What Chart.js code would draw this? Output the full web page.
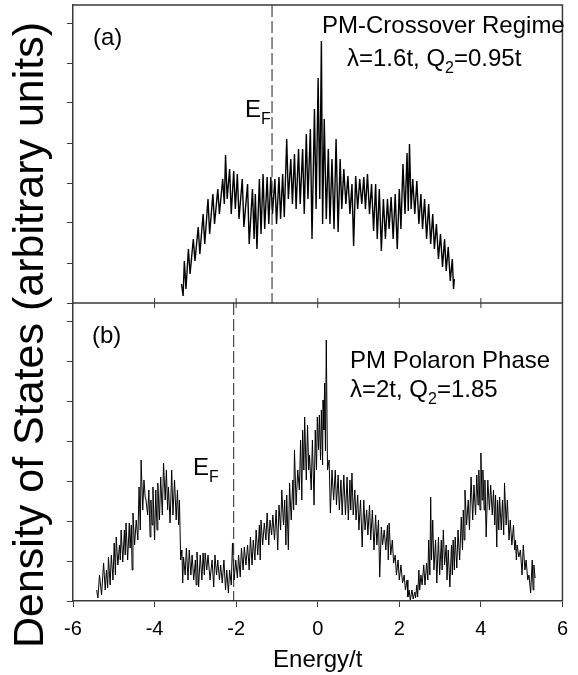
<!DOCTYPE html>
<html>
<head>
<meta charset="utf-8">
<script src="https://cdn.jsdelivr.net/npm/chart.js@4.4.1/dist/chart.umd.min.js"></script>
<style>
  body { margin: 0; background: #fff; }
  #wrap { width: 578px; height: 675px; }
</style>
</head>
<body>
<div id="wrap"><canvas id="dos" width="578" height="675"></canvas></div>
<script>
// x axis ticks
const xTickValues = [-6, -4, -2, 0, 2, 4, 6];

// Fermi energies (dashed lines)
const fermiA = -1.12;
const fermiB = -2.06;

// panel (a): PM-crossover regime
const energyA = [
  -3.34,-3.30,-3.27,-3.23,-3.17,-3.13,-3.05,-3.01,-2.93,-2.89,
  -2.81,-2.77,-2.69,-2.65,-2.57,-2.53,-2.45,-2.41,-2.33,-2.29,
  -2.26,-2.22,-2.16,-2.12,-2.06,-2.02,-1.97,-1.93,-1.85,-1.81,
  -1.72,-1.68,-1.60,-1.56,-1.53,-1.49,-1.43,-1.39,-1.34,-1.30,
  -1.24,-1.20,-1.15,-1.11,-1.05,-1.01,-0.95,-0.91,-0.86,-0.82,
  -0.76,-0.72,-0.66,-0.62,-0.57,-0.53,-0.47,-0.43,-0.37,-0.33,
  -0.28,-0.24,-0.18,-0.14,-0.08,-0.04,0.01,0.05,0.09,0.12,
  0.16,0.21,0.26,0.30,0.35,0.40,0.45,0.50,0.55,0.59,
  0.64,0.69,0.74,0.79,0.84,0.88,0.93,0.98,1.03,1.08,
  1.13,1.17,1.22,1.27,1.32,1.37,1.42,1.46,1.51,1.56,
  1.61,1.66,1.71,1.75,1.80,1.85,1.90,1.95,2.00,2.04,
  2.09,2.14,2.19,2.22,2.25,2.29,2.33,2.38,2.43,2.48,
  2.53,2.57,2.62,2.67,2.72,2.77,2.82,2.86,2.91,2.96,
  3.01,3.06,3.11,3.15,3.20,3.25,3.30,3.33,3.35
];
const dosA = [
  19,7,42,14,54,29,64,42,76,49,
  89,59,104,69,109,79,114,89,124,99,
  148,104,134,89,132,94,129,84,124,76,
  119,59,114,64,109,54,124,69,129,74,
  126,79,126,89,124,79,126,84,129,86,
  164,104,144,99,149,94,154,99,154,89,
  169,104,174,64,194,94,225,104,262,79,
  184,84,154,79,144,74,164,71,144,94,
  134,99,127,89,119,57,127,94,124,99,
  126,94,129,89,119,72,119,64,114,52,
  104,64,104,74,106,64,109,54,114,74,
  139,89,150,92,159,94,124,89,122,79,
  109,74,104,64,99,59,89,54,79,44,
  69,36,64,32,56,22,44,14,24
];

// panel (b): PM polaron phase
const energyB = [
  -5.42,-5.39,-5.35,-5.30,-5.25,-5.21,-5.18,-5.15,-5.13,-5.09,
  -5.06,-5.02,-4.99,-4.96,-4.94,-4.90,-4.86,-4.84,-4.82,-4.78,
  -4.74,-4.72,-4.70,-4.66,-4.62,-4.60,-4.57,-4.55,-4.53,-4.49,
  -4.45,-4.41,-4.38,-4.35,-4.33,-4.29,-4.26,-4.23,-4.21,-4.17,
  -4.14,-4.11,-4.09,-4.06,-4.04,-4.00,-3.97,-3.94,-3.92,-3.88,
  -3.85,-3.81,-3.78,-3.74,-3.71,-3.68,-3.66,-3.62,-3.58,-3.55,
  -3.51,-3.47,-3.44,-3.41,-3.39,-3.36,-3.33,-3.31,-3.29,-3.25,
  -3.22,-3.18,-3.15,-3.11,-3.08,-3.04,-3.00,-2.98,-2.96,-2.92,
  -2.88,-2.84,-2.81,-2.78,-2.76,-2.72,-2.69,-2.64,-2.59,-2.55,
  -2.52,-2.48,-2.45,-2.41,-2.38,-2.34,-2.30,-2.26,-2.23,-2.19,
  -2.16,-2.12,-2.09,-2.05,-2.01,-1.97,-1.94,-1.90,-1.87,-1.83,
  -1.80,-1.76,-1.72,-1.68,-1.65,-1.61,-1.58,-1.54,-1.51,-1.47,
  -1.43,-1.41,-1.39,-1.35,-1.31,-1.27,-1.24,-1.20,-1.17,-1.13,
  -1.10,-1.06,-1.02,-0.98,-0.95,-0.91,-0.88,-0.84,-0.81,-0.78,
  -0.76,-0.72,-0.69,-0.65,-0.61,-0.59,-0.57,-0.53,-0.49,-0.45,
  -0.42,-0.39,-0.37,-0.34,-0.32,-0.28,-0.25,-0.22,-0.20,-0.16,
  -0.13,-0.09,-0.06,-0.03,-0.01,0.02,0.04,0.07,0.09,0.12,
  0.13,0.15,0.17,0.19,0.21,0.24,0.28,0.31,0.35,0.39,
  0.43,0.46,0.50,0.53,0.57,0.60,0.64,0.68,0.72,0.75,
  0.79,0.81,0.84,0.87,0.91,0.94,0.98,1.01,1.05,1.09,
  1.13,1.16,1.20,1.23,1.27,1.30,1.34,1.38,1.42,1.45,
  1.49,1.52,1.56,1.59,1.63,1.67,1.71,1.73,1.75,1.79,
  1.83,1.86,1.90,1.93,1.97,2.00,2.04,2.08,2.12,2.15,
  2.19,2.21,2.24,2.27,2.31,2.34,2.38,2.40,2.43,2.45,
  2.48,2.50,2.53,2.56,2.60,2.63,2.67,2.70,2.72,2.75,
  2.77,2.79,2.82,2.85,2.89,2.92,2.96,2.99,3.03,3.05,
  3.08,3.11,3.15,3.17,3.20,3.24,3.28,3.30,3.32,3.35,
  3.37,3.41,3.44,3.48,3.52,3.55,3.57,3.59,3.61,3.65,
  3.69,3.72,3.76,3.80,3.83,3.87,3.90,3.93,3.95,3.98,
  4.00,4.03,4.05,4.08,4.10,4.13,4.17,4.21,4.24,4.28,
  4.31,4.34,4.36,4.39,4.41,4.44,4.46,4.50,4.53,4.56,
  4.58,4.62,4.65,4.69,4.72,4.76,4.80,4.83,4.85,4.87,
  4.89,4.93,4.97,5.01,5.04,5.08,5.11,5.15,5.18,5.22,
  5.26,5.28,5.30,5.33
];
const dosB = [
  11,3,26,6,38,11,31,13,44,16,
  46,21,58,26,64,36,56,41,71,39,
  71,46,78,41,78,53,76,31,88,56,
  81,61,114,71,141,91,121,104,101,86,
  111,64,101,76,114,61,111,71,118,81,
  124,86,138,101,131,91,114,78,131,86,
  121,81,111,76,101,41,51,18,44,26,
  53,21,51,26,46,21,41,16,49,14,
  46,21,48,26,48,31,46,21,41,14,
  46,26,41,21,36,18,41,11,31,8,
  31,16,58,21,41,23,46,24,53,31,
  54,36,56,31,64,36,61,41,71,46,
  76,41,81,56,78,61,88,56,81,66,
  86,61,91,51,96,71,111,76,101,56,
  106,51,118,81,121,91,151,96,131,111,
  161,101,171,131,184,121,176,131,146,111,
  161,96,171,131,184,151,186,141,191,136,
  201,171,218,150,261,131,141,88,131,101,
  131,96,126,91,121,86,126,86,124,81,
  121,91,128,86,111,81,106,71,101,54,
  101,71,91,66,96,61,91,51,86,56,
  81,24,74,56,71,51,76,41,78,46,
  61,38,46,26,41,21,36,18,26,11,
  21,4,11,1,11,2,9,3,16,4,
  31,11,26,16,36,16,38,21,61,26,
  104,41,81,31,61,18,64,26,61,31,
  71,36,56,21,51,14,56,26,61,31,
  64,33,71,41,84,51,91,61,111,76,
  101,71,124,81,116,86,126,96,131,91,
  148,101,131,91,121,64,121,91,116,86,
  111,76,106,54,101,71,104,71,101,66,
  118,76,101,61,81,56,76,51,61,41,
  56,44,51,26,56,31,41,21,26,8,
  41,11,36,23
];

const FONT = 'Arial, "Liberation Sans", sans-serif';
const frameColor = '#3a3a3a';
Chart.defaults.font.family = FONT;
Chart.defaults.color = '#000';

// draw text made of normal / subscript pieces
function drawParts(ctx, parts, x, y, size) {
  let cx = x;
  parts.forEach(([txt, sub]) => {
    ctx.font = (sub ? Math.round(size * 0.65) : size) + 'px ' + FONT;
    ctx.fillText(txt, cx, sub ? y + size * 0.28 : y);
    cx += ctx.measureText(txt).width;
  });
}

const overlay = {
  id: 'overlay',
  afterDraw(chart) {
    const { ctx, chartArea: ca, scales } = chart;
    const x = scales.x, ya = scales.yA, yb = scales.yB;
    ctx.save();

    // frame: top, right and the divider between the panels
    ctx.strokeStyle = frameColor;
    ctx.lineWidth = 1.5;
    ctx.beginPath();
    ctx.moveTo(ca.left, ca.top);
    ctx.lineTo(ca.right, ca.top);
    ctx.lineTo(ca.right, ca.bottom);
    ctx.moveTo(ca.left, ya.bottom);
    ctx.lineTo(ca.right, ya.bottom);
    ctx.stroke();

    // small ticks across the divider
    ctx.lineWidth = 1;
    ctx.beginPath();
    x.ticks.forEach(t => {
      const px = x.getPixelForValue(t.value);
      if (px > ca.left + 2 && px < ca.right - 2) {
        ctx.moveTo(px, ya.bottom - 5);
        ctx.lineTo(px, ya.bottom + 5);
      }
    });
    ctx.stroke();

    // Fermi level lines
    ctx.strokeStyle = '#222';
    ctx.setLineDash([12, 4]);
    ctx.beginPath();
    let px = x.getPixelForValue(fermiA);
    ctx.moveTo(px, ya.top);
    ctx.lineTo(px, ya.bottom);
    px = x.getPixelForValue(fermiB);
    ctx.moveTo(px, yb.top);
    ctx.lineTo(px, yb.bottom);
    ctx.stroke();
    ctx.setLineDash([]);

    // labels
    ctx.fillStyle = '#000';
    ctx.textAlign = 'left';
    ctx.textBaseline = 'alphabetic';
    drawParts(ctx, [['(a)', false]], 93, 45, 24);
    drawParts(ctx, [['E', false], ['F', true]], 245, 117, 24);
    drawParts(ctx, [['PM-Crossover Regime', false]], 322, 33, 24);
    drawParts(ctx, [['\u03bb=1.6t, Q', false], ['2', true], ['=0.95t', false]], 347, 66, 24);

    drawParts(ctx, [['(b)', false]], 92, 343, 24);
    drawParts(ctx, [['E', false], ['F', true]], 193, 475, 24);
    drawParts(ctx, [['PM Polaron Phase', false]], 350, 368, 24);
    drawParts(ctx, [['\u03bb=2t, Q', false], ['2', true], ['=1.85', false]], 350, 397, 24);

    // y axis title
    ctx.save();
    ctx.translate(43, 335);
    ctx.rotate(-Math.PI / 2);
    ctx.textAlign = 'center';
    ctx.font = '43px ' + FONT;
    ctx.fillText('Density of States (arbitrary units)', 0, 0);
    ctx.restore();

    ctx.restore();
  }
};

const yCommon = {
  type: 'linear',
  position: 'left',
  stack: 'dos',
  stackWeight: 1,
  min: 0,
  max: 298,
  offset: false,
  grid: { drawOnChartArea: false, drawTicks: true, tickLength: 6, color: frameColor, lineWidth: 1 },
  border: { display: true, color: frameColor, width: 1.5 },
  ticks: { display: false, stepSize: 40, includeBounds: false },
  afterFit(scale) { scale.width = 10; }
};

new Chart(document.getElementById('dos'), {
  type: 'line',
  data: {
    datasets: [
      {
        label: 'PM-Crossover Regime',
        data: energyA.map((e, i) => ({ x: e, y: dosA[i] })),
        yAxisID: 'yA',
        borderColor: '#000',
        borderWidth: 1.4,
        pointRadius: 0,
        tension: 0,
        fill: false
      },
      {
        label: 'PM Polaron Phase',
        data: energyB.map((e, i) => ({ x: e, y: dosB[i] })),
        yAxisID: 'yB',
        borderColor: '#000',
        borderWidth: 1,
        pointRadius: 0,
        tension: 0,
        fill: false
      }
    ]
  },
  options: {
    responsive: false,
    animation: false,
    layout: { padding: { left: 63, top: 5, right: 8, bottom: 0 } },
    plugins: {
      legend: { display: false },
      tooltip: { enabled: false }
    },
    scales: {
      x: {
        type: 'linear',
        min: -6,
        max: 6,
        afterBuildTicks(scale) { scale.ticks = xTickValues.map(v => ({ value: v })); },
        grid: { drawOnChartArea: false, drawTicks: true, tickLength: 6, color: frameColor },
        border: { display: true, color: frameColor, width: 1.5 },
        ticks: { font: { size: 20 }, padding: 10, color: '#000' },
        title: { display: true, text: 'Energy/t', font: { size: 24 }, color: '#000', padding: { top: 0, bottom: 0 } },
        afterFit(scale) { scale.height = 74; }
      },
      yB: Object.assign({}, yCommon),
      yA: Object.assign({}, yCommon)
    }
  },
  plugins: [overlay]
});
</script>
</body>
</html>
